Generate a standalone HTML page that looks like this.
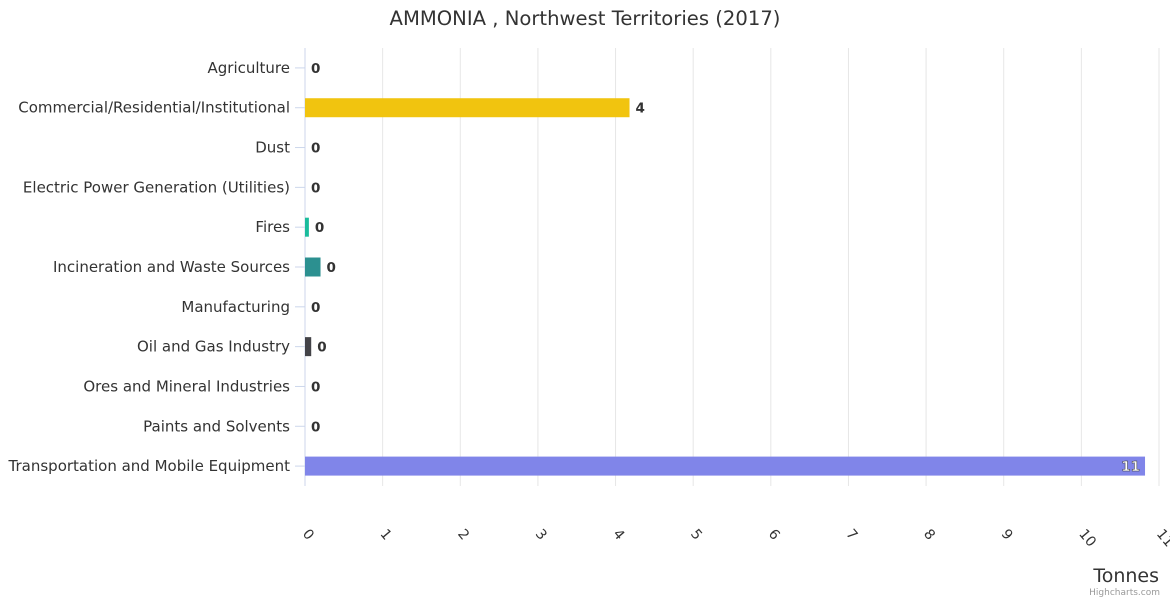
<!DOCTYPE html>
<html><head><meta charset="utf-8"><style>
body{margin:0;background:#fff;font-family:"DejaVu Sans",sans-serif;}
</style></head><body>
<svg id="c" width="1170" height="600" xmlns="http://www.w3.org/2000/svg" font-family="DejaVu Sans, sans-serif">
<text x="585" y="25" text-anchor="middle" font-size="19.6" fill="#333">AMMONIA , Northwest Territories (2017)</text>
<g id="grid"></g><g id="bars"></g>
<text x="1159" y="582" text-anchor="end" font-size="19" fill="#333">Tonnes</text>
<text x="1160" y="595" text-anchor="end" font-size="9" fill="#999">Highcharts.com</text>
</svg>
<script>
const categories=["Agriculture","Commercial/Residential/Institutional","Dust","Electric Power Generation (Utilities)","Fires","Incineration and Waste Sources","Manufacturing","Oil and Gas Industry","Ores and Mineral Industries","Paints and Solvents","Transportation and Mobile Equipment"];
const values=[0,4.18,0,0,0.05,0.2,0,0.08,0,0,10.82];
const labels=["0","4","0","0","0","0","0","0","0","0","11"];
const colors=["#7cb5ec","#f1c40f","#7cb5ec","#7cb5ec","#1abc9c","#2c9090","#90ed7d","#434348","#7cb5ec","#7cb5ec","#8085e9"];
const ticks=[0,1,2,3,4,5,6,7,8,9,10,11];
const NS="http://www.w3.org/2000/svg";
const x0=305,x1=1159,yTop=48,yBot=486,xmax=11;
const X=v=>x0+(x1-x0)*v/xmax;
const step=(yBot-yTop)/categories.length;
const Y=i=>yTop+step*(i+0.5);
function mk(t,a,p){const e=document.createElementNS(NS,t);for(const k in a)e.setAttribute(k,a[k]);p.appendChild(e);return e;}
const g=document.getElementById('grid'),b=document.getElementById('bars');
ticks.forEach(t=>{
 const l=mk('line',{x1:X(t),x2:X(t),y1:yTop,y2:yBot,stroke:t===0?'#ccd6eb':'#e6e6e6'},g);
 
 
 const tx=mk('text',{x:X(t)-3,y:534,'font-size':14,fill:'#333',transform:`rotate(50 ${X(t)-3} 534)`},g);
 tx.textContent=t;
 
 
});
categories.forEach((c,i)=>{
 const y=Y(i);
 const tk=mk('line',{x1:295,x2:305,y1:y,y2:y,stroke:'#ccd6eb'},g);
 
 
 const t=mk('text',{x:290,y:y+5,'text-anchor':'end','font-size':15,fill:'#333'},g);
 t.textContent=c;
 
 
 const w=X(values[i])-x0;
 if(w>0){const r=mk('rect',{x:x0,y:y-9.5,width:w,height:19,fill:colors[i]},b);
 
 }
 const inside=values[i]>10;
 const lx=inside?X(values[i])-5:Math.max(X(values[i]),x0)+6;
 const lt=mk('text',{x:lx,y:y+5,'text-anchor':inside?'end':'start','font-size':13.5,'font-weight':'bold',fill:inside?'#fff':'#333',stroke:inside?'#333':'none','stroke-width':inside?0.5:0},b);
 lt.textContent=labels[i];
 
 
});
</script>
</body></html>
